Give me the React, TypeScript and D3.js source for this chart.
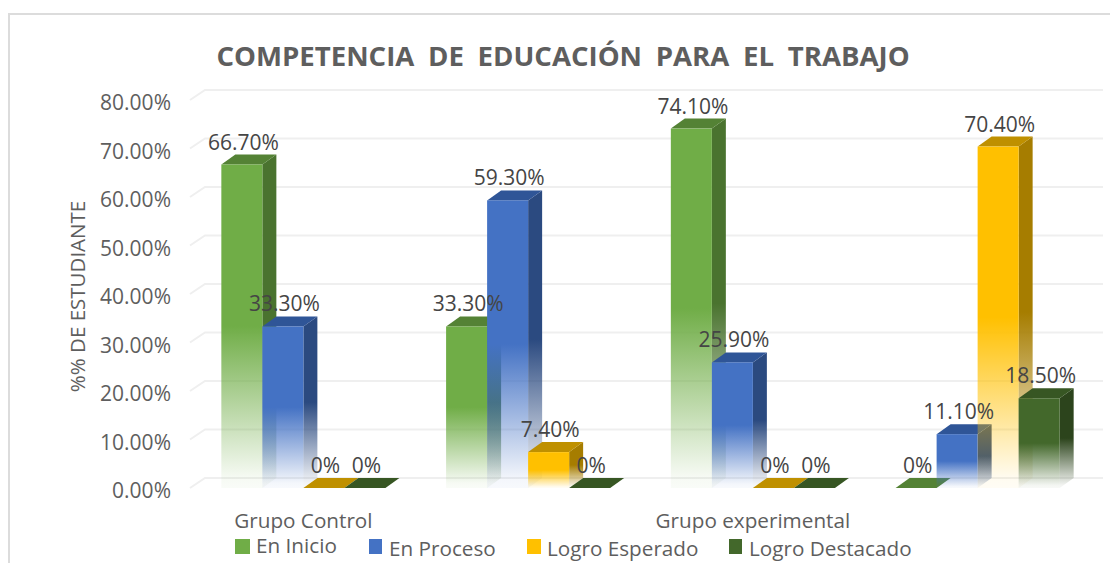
import React from "react";
import * as d3 from "d3";

const categories = ["Grupo Control", "", "Grupo experimental", ""];
const seriesNames = ["En Inicio", "En Proceso", "Logro Esperado", "Logro Destacado"];
const enInicio = [66.7, 33.3, 74.1, 0];
const enProceso = [33.3, 59.3, 25.9, 11.1];
const logroEsperado = [0, 7.4, 0, 70.4];
const logroDestacado = [0, 0, 0, 18.5];
const labelsInicio = ["66.70%", "33.30%", "74.10%", "0%"];
const labelsProceso = ["33.30%", "59.30%", "25.90%", "11.10%"];
const labelsEsperado = ["0%", "7.40%", "0%", "70.40%"];
const labelsDestacado = ["0%", "0%", "0%", "18.50%"];
const yTicks = [0, 10, 20, 30, 40, 50, 60, 70, 80];
const frontColors = ["#70AD47", "#4472C4", "#FFC000", "#43682B"];
const sideColors = ["#4A732F", "#2B4A80", "#A67D00", "#2C441C"];
const topColors = ["#548235", "#2F5597", "#BF9000", "#375623"];
const legendX = [235, 369, 527, 729];
const legendW = [15, 13, 14, 13];
const legendTextX = [256, 389, 547, 749];

const FONT = "'Open Sans', sans-serif";
const allValues = [enInicio, enProceso, logroEsperado, logroDestacado];
const allLabels = [labelsInicio, labelsProceso, labelsEsperado, labelsDestacado];
const DX = 14;
const DY = 10;

export default function App() {
  const y = d3.scaleLinear().domain([0, 80]).range([488, 100]);
  const x0 = d3.scaleBand<number>().domain([0, 1, 2, 3]).range([191, 1090]).paddingInner(0.27).paddingOuter(0.135);
  const x1 = d3.scaleBand<number>().domain([0, 1, 2, 3]).range([0, x0.bandwidth()]);
  const bw = x1.bandwidth();
  const base = y(0);

  return (
    <svg width={1110} height={563} style={{ position: "absolute", left: 0, top: 0, background: "#fff" }} fontFamily={FONT}>
      <defs>
        {[...frontColors, ...sideColors].map((c, i) => (
          <linearGradient key={i} id={`g${i}`} x1="0" y1="0" x2="0" y2="1">
            <stop offset="0" stopColor={c} stopOpacity={1} />
            <stop offset="0.5" stopColor={c} stopOpacity={1} />
            <stop offset="0.97" stopColor={c} stopOpacity={0.06} />
            <stop offset="1" stopColor={c} stopOpacity={0.04} />
          </linearGradient>
        ))}
      </defs>
      <path d="M1110,14H9V563" fill="none" stroke="#dcdcdc" strokeWidth={2} />
      <text x={563} y={66} textAnchor="middle" fontSize={27.6} fontWeight={700} fill="#5e5e5e" style={{ wordSpacing: "6.5px" }}>
        COMPETENCIA DE EDUCACIÓN PARA EL TRABAJO
      </text>
      {yTicks.map((t) => (
        <g key={t}>
          <path d={`M190,${y(t)}L${190 + 15},${y(t) - DY}H1103`} fill="none" stroke="#efefef" strokeWidth={2} />
          <text x={171} y={y(t) + 10} textAnchor="end" fontSize={21} fill="#5e5e5e">
            {t.toFixed(2)}%
          </text>
        </g>
      ))}
      <text transform="translate(85,296.5) rotate(-90)" textAnchor="middle" fontSize={20.5} fill="#5e5e5e">
        %% DE ESTUDIANTE
      </text>
      {categories.map((_, ci) =>
        allValues.map((vals, si) => {
          const v = vals[ci];
          const bx = (x0(ci) as number) + (x1(si) as number);
          const top = y(v);
          return (
            <g key={`${ci}-${si}`}>
              {v > 0 && (
                <path
                  d={`M${bx + bw},${top}L${bx + bw + DX},${top - DY}V${base - DY}L${bx + bw},${base}Z`}
                  fill={`url(#g${si + 4})`}
                />
              )}
              <path
                d={`M${bx},${top}L${bx + DX},${top - DY}H${bx + bw + DX}L${bx + bw},${top}Z`}
                fill={topColors[si]}
              />
              {v > 0 && <rect x={bx} y={top} width={bw} height={base - top} fill={`url(#g${si})`} />}
            </g>
          );
        })
      )}
      {categories.map((_, ci) =>
        allValues.map((vals, si) => {
          const bx = (x0(ci) as number) + (x1(si) as number);
          return (
            <text key={`${ci}-${si}`} x={bx + bw / 2 + 1.5} y={y(vals[ci]) - 15} textAnchor="middle" fontSize={21} fill="#454545">
              {allLabels[si][ci]}
            </text>
          );
        })
      )}
      {categories.map((c, ci) => (
        <text key={ci} x={(x0(ci) as number) + x0.bandwidth() / 2} y={528} textAnchor="middle" fontSize={20.7} fill="#5e5e5e">
          {c}
        </text>
      ))}
      {seriesNames.map((s, i) => (
        <g key={s}>
          <rect x={legendX[i]} y={539} width={legendW[i]} height={15} fill={frontColors[i]} />
          <text x={legendTextX[i]} y={i === 0 ? 553 : 556} fontSize={20.7} fill="#5e5e5e">
            {s}
          </text>
        </g>
      ))}
    </svg>
  );
}
